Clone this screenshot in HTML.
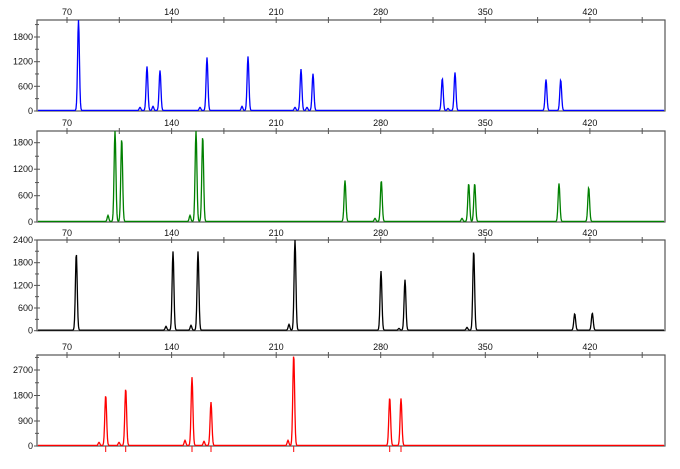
<!DOCTYPE html>
<html><head><meta charset="utf-8"><style>
html,body{margin:0;padding:0;background:#fff;}
svg{display:block;font-family:"Liberation Sans",Arial,sans-serif;}
</style></head><body>
<svg id="s" width="680" height="469" viewBox="0 0 680 469" xmlns="http://www.w3.org/2000/svg"></svg>
<script>
const s=document.getElementById('s');let h='';
const L=37,R=665;
const xs=v=>67+(v-70)*1.494;
const panels=[
 {top:20,bot:111,lab:12,col:'#0000ff',yt:[[0,111],[600,86.3],[1200,61.7],[1800,37]],minor:[300,900,1500,2100],ppu:24.7/600,
  peaks:[[78.5,20],[147,67],[160,71],[207,58],[248,57],[301,69.7],[313,74.3],[442.3,79],[455,73],[546,80],[560.7,80.3],
   [140,108],[153,107],[200,108],[242,107],[295,108],[307,108],[448,109]]},
 {top:131,bot:222,lab:123,col:'#008000',yt:[[0,222],[600,195.7],[1200,169.2],[1800,142.7]],minor:[300,900,1500],ppu:26.3/600,
  peaks:[[115,131],[121.7,139],[196,131],[202.7,136.7],[345,181],[381.3,181],[468.7,184],[474.7,184],[559,184],[588.7,188],
   [108,216],[190,216],[375,219],[462,219]]},
 {top:240,bot:330.7,lab:233,col:'#000000',yt:[[0,330.7],[600,308],[1200,285.4],[1800,262.7],[2400,240]],minor:[300,900,1500,2100],ppu:22.7/600,
  peaks:[[76.3,253.7],[173,252],[198,252],[295,240],[381,271.7],[405,280.3],[473.7,251.3],[574.7,314.3],[592.3,313.7],
   [166,327],[191,326],[289,325],[399,329],[467,328]]},
 {top:355,bot:446,lab:347,col:'#ff0000',yt:[[0,446],[900,421],[1800,395.5],[2700,370]],minor:[450,1350,2250,3150],ppu:25.3/900,
  peaks:[[105.7,395.7],[125.7,389],[192,377.7],[211,402.7],[293.7,355],[389.7,398],[401,399],
   [99,443],[119,443],[185,441],[204,442],[288,441]],marks:[105.7,125.7,192,211,293.7,389.7,401]}
];
panels.forEach(p=>{
  // frame
  h+=`<rect x="${L}" y="${p.top}" width="${R-L}" height="${p.bot-p.top}" fill="none" stroke="#555" stroke-width="1.2"/>`;
  // x ticks
  for(let v=70;v<=455;v+=35){const x=xs(v).toFixed(1);h+=`<line x1="${x}" y1="${p.top-3}" x2="${x}" y2="${p.top+3}" stroke="#555" stroke-width="1"/>`;
    if((v-70)%70==0)h+=`<text x="${x}" y="${p.lab+3}" font-size="9" text-anchor="middle" fill="#111">${v}</text>`;}
  // y ticks
  p.yt.forEach(([v,y])=>{h+=`<line x1="${L-3}" y1="${y}" x2="${L+3}" y2="${y}" stroke="#555"/><text x="${L-4}" y="${y+3}" font-size="9" text-anchor="end" fill="#111">${v}</text>`;});
  p.minor.forEach(v=>{const y=p.bot-v*p.ppu;if(y>p.top)h+=`<line x1="${L-2}" y1="${y}" x2="${L+2}" y2="${y}" stroke="#555"/>`;});
  // trace
  let d='';
  for(let x=L+1;x<=R-1;x+=0.5){
    let y=p.bot-0.6;
    p.peaks.forEach(([px,py])=>{const hgt=p.bot-py;const sig=hgt>10?0.9:0.8;y-=hgt*Math.exp(-((x-px)**2)/(2*sig*sig));});
    y=Math.max(y,p.top);
    d+=(d?'L':'M')+x.toFixed(1)+' '+y.toFixed(1);
  }
  h+=`<path d="${d}" fill="none" stroke="${p.col}" stroke-width="1.3"/>`;
  if(p.marks)p.marks.forEach(x=>{h+=`<line x1="${x}" y1="${p.bot}" x2="${x}" y2="${p.bot+6}" stroke="${p.col}" stroke-width="1"/>`;});
});
s.innerHTML=h;
</script>
</body></html>
